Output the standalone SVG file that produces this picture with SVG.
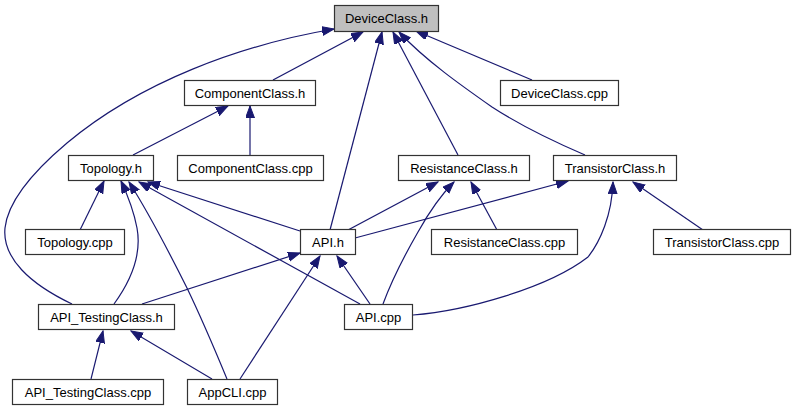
<svg xmlns="http://www.w3.org/2000/svg" width="795" height="411" viewBox="0 0 795 411">
<style>
.n rect{fill:#ffffff;stroke:#333333;stroke-width:1.2}
.n text{font-family:"Liberation Sans",Arial,sans-serif;font-size:13px;fill:#000000;text-anchor:middle}
#edges path{fill:none;stroke:#191970;stroke-width:1.2;marker-end:url(#ah)}
</style>
<defs>
<marker id="ah" markerUnits="userSpaceOnUse" markerWidth="13" markerHeight="10" refX="12" refY="4.5" orient="auto">
<path d="M0,0 L12,4.5 L0,9 Z" fill="#191970" stroke="#191970" stroke-width="1"/>
</marker>
</defs>
<rect width="795" height="411" fill="#ffffff"/>
<g id="edges">
<path d="M72,304 C30,284 2,258 5,228 C8,200 35,170 67,143 C140,82 240,45 334,29"/>
<path d="M273,80 L363,32"/>
<path d="M330,230 L382,32"/>
<path d="M458,155 L393,32"/>
<path d="M585,155 C550,140 515,122 492,107 C462,86 425,60 399,32"/>
<path d="M532,80 L416,31"/>
<path d="M133,155 L228,106"/>
<path d="M250,155 L250,106"/>
<path d="M80,230 L104,181"/>
<path d="M114,304 C130,282 142,255 137,228 C134,212 128,196 121,181"/>
<path d="M227,379 C215,350 200,315 187,288 C172,258 150,215 129,182"/>
<path d="M360,304 L139,182"/>
<path d="M300,231 L148,182"/>
<path d="M348,230 L438,182"/>
<path d="M383,304 C390,285 403,258 418,232 C428,214 440,196 454,182"/>
<path d="M497,230 L471,182"/>
<path d="M355,238 L568,181"/>
<path d="M413,315 C465,311 548,288 588,257 C600,242 612,215 613,182"/>
<path d="M703,230 L633,182"/>
<path d="M142,304 L300,253"/>
<path d="M240,379 L320,256"/>
<path d="M370,304 L337,256"/>
<path d="M91,379 L103,331"/>
<path d="M212,379 L131,331"/>
</g>
<g id="DeviceClass_h" class="n"><rect x="334.5" y="5.5" width="104" height="26" style="fill:#bfbfbf"/><text x="386.5" y="23">DeviceClass.h</text></g>
<g id="ComponentClass_h" class="n"><rect x="184.5" y="80.5" width="131" height="25"/><text x="250" y="98">ComponentClass.h</text></g>
<g id="DeviceClass_cpp" class="n"><rect x="500.5" y="80.5" width="118" height="25"/><text x="559.5" y="98">DeviceClass.cpp</text></g>
<g id="Topology_h" class="n"><rect x="68.5" y="155.5" width="85" height="25"/><text x="111" y="173">Topology.h</text></g>
<g id="ComponentClass_cpp" class="n"><rect x="177.5" y="155.5" width="146" height="25"/><text x="250.5" y="173">ComponentClass.cpp</text></g>
<g id="ResistanceClass_h" class="n"><rect x="398.5" y="155.5" width="131" height="25"/><text x="464" y="173">ResistanceClass.h</text></g>
<g id="TransistorClass_h" class="n"><rect x="553.5" y="155.5" width="123" height="25"/><text x="615" y="173">TransistorClass.h</text></g>
<g id="Topology_cpp" class="n"><rect x="25.5" y="229.5" width="99" height="25"/><text x="75" y="247">Topology.cpp</text></g>
<g id="API_h" class="n"><rect x="300.5" y="229.5" width="55" height="25"/><text x="328" y="247">API.h</text></g>
<g id="ResistanceClass_cpp" class="n"><rect x="431.5" y="229.5" width="146" height="25"/><text x="504.5" y="247">ResistanceClass.cpp</text></g>
<g id="TransistorClass_cpp" class="n"><rect x="653.5" y="229.5" width="137" height="25"/><text x="722" y="247">TransistorClass.cpp</text></g>
<g id="API_TestingClass_h" class="n"><rect x="38.5" y="304.5" width="136" height="25"/><text x="106.5" y="322">API_TestingClass.h</text></g>
<g id="API_cpp" class="n"><rect x="344.5" y="304.5" width="68" height="25"/><text x="378.5" y="322">API.cpp</text></g>
<g id="API_TestingClass_cpp" class="n"><rect x="12.5" y="379.5" width="151" height="25"/><text x="88" y="397">API_TestingClass.cpp</text></g>
<g id="AppCLI_cpp" class="n"><rect x="187.5" y="379.5" width="90" height="25"/><text x="232.5" y="397">AppCLI.cpp</text></g>
</svg>
